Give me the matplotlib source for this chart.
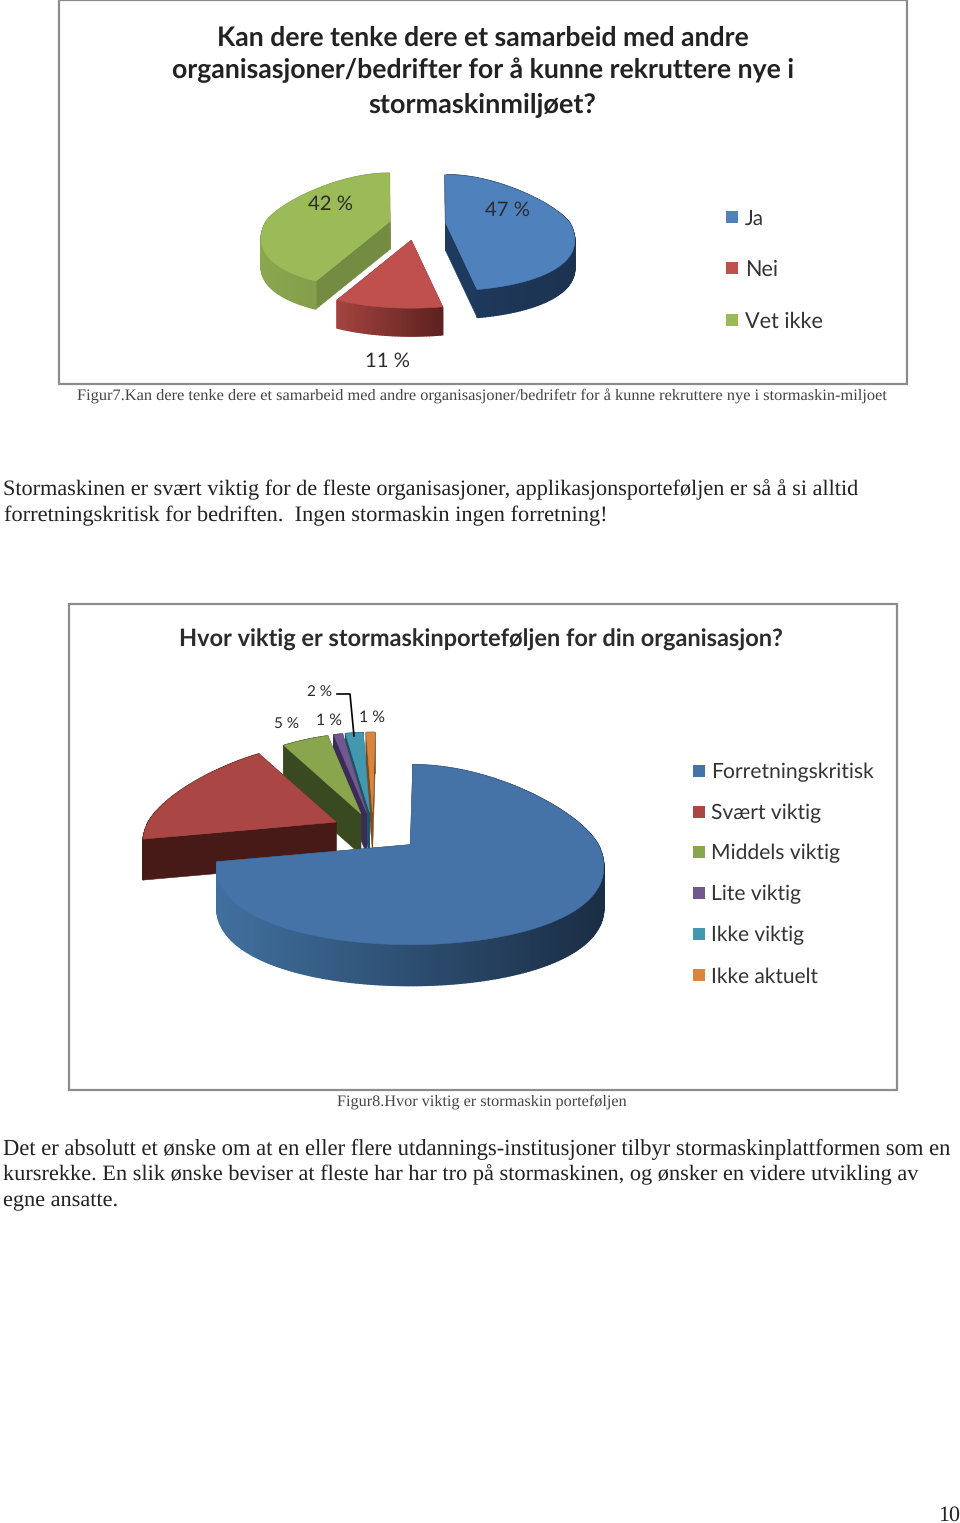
import numpy as np
import matplotlib
matplotlib.use("Agg")
import matplotlib.pyplot as plt
from matplotlib.colors import to_rgb
from matplotlib.patches import Polygon, Rectangle

# finer glyph advances, so line widths follow the font size more closely
plt.rcParams["text.hinting"] = "no_hinting"
plt.rcParams["text.hinting_factor"] = 32

# ── Data ──────────────────────────────────────────────────
title1 = ["Kan dere tenke dere et samarbeid med andre",
          "organisasjoner/bedrifter for å kunne rekruttere nye i",
          "stormaskinmiljøet?"]
names1 = ["Ja", "Nei", "Vet ikke"]
values1 = [47, 11, 42]
colors1 = ["#4F81BD", "#C0504D", "#9BBB59"]

title2 = "Hvor viktig er stormaskinporteføljen for din organisasjon?"
names2 = ["Forretningskritisk", "Svært viktig", "Middels viktig",
          "Lite viktig", "Ikke viktig", "Ikke aktuelt"]
values2 = [72, 19, 5, 1, 2, 1]
colors2 = ["#4572A7", "#AA4643", "#89A54E", "#71588F", "#4198AF", "#DB843D"]

caption1 = ("Figur7.Kan dere tenke dere et samarbeid med andre organisasjoner/"
            "bedrifetr for å kunne rekruttere nye i stormaskin-miljoet")
caption2 = "Figur8.Hvor viktig er stormaskin porteføljen"
para1 = ["Stormaskinen er svært viktig for de fleste organisasjoner, "
         "applikasjonsporteføljen er så å si alltid",
         "forretningskritisk for bedriften.  Ingen stormaskin ingen forretning!"]
para2 = ["Det er absolutt et ønske om at en eller flere utdannings-institusjoner "
         "tilbyr stormaskinplattformen som en",
         "kursrekke. En slik ønske beviser at fleste har har tro på stormaskinen, "
         "og ønsker en videre utvikling av",
         "egne ansatte."]

SANS = ["Lato", "DejaVu Sans"]
SERIF = ["Liberation Serif", "DejaVu Serif"]

fig = plt.figure(figsize=(9.6, 15.23), dpi=100)
ax = fig.add_axes([0, 0, 1, 1])
ax.set_xlim(0, 960)
ax.set_ylim(1523, 0)
ax.axis("off")


def fit_text(x, y, s, width, family, color="black", ha="left", weight="normal"):
    # pick the font size whose measured line is nearest the width on the page
    dy = 2 if family is SERIF else 1.5
    t = ax.text(x, y + dy, s, family=family, color=color, ha=ha, va="center",
                weight=weight, fontsize=12)
    renderer = fig.canvas.get_renderer()
    f0 = 12 * width / t.get_window_extent(renderer).width
    best, best_err = f0, 1e9
    for f in f0 * np.linspace(0.94, 1.06, 61):
        t.set_fontsize(f)
        err = abs(t.get_window_extent(renderer).width - width)
        if err < best_err:
            best, best_err = f, err
    t.set_fontsize(best)
    return t


def mix(a, b, t):
    a, b = np.array(to_rgb(a)), np.array(to_rgb(b))
    return tuple(a + (b - a) * t)


def pie3d(values, colors, sides, edges, center, rx, ry_up, ry_dn, depth, persp,
          start, explode, order):
    edges_deg = start + np.cumsum([0] + list(values)) * 3.6

    def project(deg, r, cx, cy):
        th = np.radians(deg)
        s, c = np.sin(th), np.cos(th)
        ry = np.where(c > 0, ry_up, ry_dn)
        return (cx + r * rx * s * (1 - persp * c), cy - r * ry * c)

    for z, i in enumerate(order):
        zo = 2 + z
        a0, a1 = edges_deg[i], edges_deg[i + 1]
        ox, oy = project((a0 + a1) / 2, explode[i], 0, 0)
        ox, oy = center[0] + ox, center[1] + oy
        th = np.linspace(a0, a1, max(int(a1 - a0) + 2, 4))
        xs, ys = project(th, 1, ox, oy)

        # straight inner sides
        for px, py in [(xs[0], ys[0]), (xs[-1], ys[-1])]:
            ax.add_patch(Polygon([(ox, oy), (px, py), (px, py + depth), (ox, oy + depth)],
                                 fc=edges[i], ec=edges[i], lw=0.4, zorder=zo))
        # outer rim, shaded left to right
        for j in range(len(th) - 1):
            t = (xs[j] - xs.min()) / max(xs.max() - xs.min(), 1)
            col = mix(sides[i][0], sides[i][1], t)
            ax.add_patch(Polygon([(xs[j], ys[j]), (xs[j + 1], ys[j + 1]),
                                  (xs[j + 1], ys[j + 1] + depth), (xs[j], ys[j] + depth)],
                                 fc=col, ec=col, lw=1.0, zorder=zo))
        # top face
        ax.add_patch(Polygon(np.r_[[[ox, oy]], np.c_[xs, ys]], fc=colors[i], ec=colors[i],
                             lw=0.4, zorder=zo))


# ── Frames ────────────────────────────────────────────────
for x0, y0, x1, y1 in [(59, 0, 907, 384), (69, 604, 897, 1090)]:
    ax.add_patch(Rectangle((x0, y0), x1 - x0, y1 - y0, fc="white", ec="#8c8c8c", lw=1.6, zorder=1))

# ── Chart 1 ───────────────────────────────────────────────
for y, line, x_left, w in zip([37, 69, 103], title1, [217, 172, 368], [532, 622, 228]):
    fit_text(x_left, y, line, w, SANS, color="#222222", weight="bold")

sides1 = [("#1f3a5f", "#1c3350"), ("#a5443f", "#5c2120"), ("#8aa64e", "#7d9648")]
edges1 = ["#1f3a5f", "#5c2120", "#748c42"]
pie3d(values1, colors1, sides1, edges1, (417, 224), 124, 48, 68, 28, 0.3,
      -0.5, [0.24, 0.24, 0.24], [2, 0, 1])

for txt, x, y, w in zip(["47 %", "11 %", "42 %"], [507, 387, 330], [209, 360, 203], [45, 45, 45]):
    fit_text(x, y, txt, w, SANS, color="#2b2b2b", ha="center")

for name, col, y, w in zip(names1, colors1, [217, 268, 320], [19, 33, 78]):
    ax.add_patch(Rectangle((726, y - 6), 12, 12, fc=col, ec="none", zorder=3))
    fit_text(745, y, name, w, SANS, color="#333333")

# ── Chart 2 ───────────────────────────────────────────────
fit_text(179, 638, title2, 604, SANS, color="#2b2b2b", weight="bold")

sides2 = [("#41709f", "#1a2d44"), ("#481a17", "#481a17"), ("#3a4a20", "#3a4a20"),
          ("#3a2c56", "#3a2c56"), ("#1f5161", "#1f5161"), ("#7a4a20", "#7a4a20")]
edges2 = ["#1a2d44", "#481a17", "#3a4a20", "#3a2c56", "#1f5161", "#7a4a20"]
pie3d(values2, colors2, sides2, edges2, (373, 830), 188, 80, 100, 41, 0.25,
      1, [0.225, 0.24, 0.22, 0.22, 0.22, 0.22], [5, 4, 3, 2, 1, 0])

for txt, x, y, w in zip(["72 %", "19 %", "5 %", "1 %", "2 %", "1 %"],
                        [532, 205, 287, 329, 320, 372],
                        [896, 793, 722, 719, 691, 716],
                        [36, 36, 25, 26, 25, 26]):
    fit_text(x, y, txt, w, SANS, color="#2b2b2b", ha="center")

ax.plot([337, 350, 354], [694, 694, 736], color="black", lw=1.2, zorder=9)

for name, col, y, w in zip(names2, colors2, [771, 812, 852, 893, 934, 975],
                           [163, 110, 129, 90, 93, 107]):
    ax.add_patch(Rectangle((693, y - 6), 12, 12, fc=col, ec="none", zorder=3))
    fit_text(711, y, name, w, SANS, color="#333333")

# ── Page text ─────────────────────────────────────────────
fit_text(77, 394, caption1, 811, SERIF, color="#444444")
fit_text(337, 1100, caption2, 290, SERIF, color="#444444")

for y, line, x, w in zip([488, 514], para1, [3, 4], [855, 604]):
    fit_text(x, y, line, w, SERIF, color="#222222")
for y, line, w in zip([1147, 1173, 1199], para2, [948, 916, 115]):
    fit_text(3, y, line, w, SERIF, color="#222222")

fit_text(938, 1513, "10", 22, SERIF, color="#222222")

fig.savefig("out.png", dpi=100)
plt.close(fig)
